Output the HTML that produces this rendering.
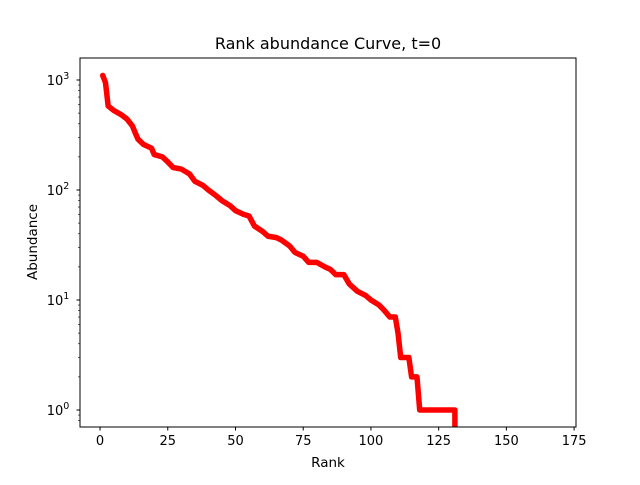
<!DOCTYPE html>
<html><head><meta charset="utf-8"><style>
body{margin:0;background:#fff;}
svg text{font-family:"DejaVu Sans","Liberation Sans",sans-serif;fill:#000;}
</style></head><body>
<svg id="chart" width="640" height="480" viewBox="0 0 640 480" xmlns="http://www.w3.org/2000/svg">
<rect width="640" height="480" fill="#fff"/>
<defs><clipPath id="clip"><rect x="80" y="58" width="496" height="369"/></clipPath></defs>
<g id="plot" clip-path="url(#clip)"></g>
<rect x="80" y="58" width="496" height="369" fill="none" stroke="#000" stroke-width="1"/>
<g id="axes"></g>
<text x="328" y="49" text-anchor="middle" font-size="16">Rank abundance Curve, t=0</text>
<text x="328" y="467" text-anchor="middle" font-size="13.5">Rank</text>
<text x="37" y="242" text-anchor="middle" font-size="13.5" transform="rotate(-90 37 242)">Abundance</text>
</svg>
<script>
const ranks = [1,2,3,5,8,10,12,13,14,16,19,20,23,25,27,30,33,35,38,40,43,45,48,50,53,55,57,60,62,65,67,70,72,75,77,80,83,85,87,90,92,95,98,100,103,105,107,109,110,111,114,115,117,118,131];
const abundance = [1100,950,580,530,480,440,380,330,290,260,240,210,200,180,160,155,140,120,110,100,88,80,72,65,60,58,47,42,38,37,35,31,27,25,22,22,20,19,17,17,14,12,11,10,9,8,7,7,5,3,3,2,2,1,1];
const xTicks = [0,25,50,75,100,125,150,175];
const yTicks = [0,1,2,3];
const NS="http://www.w3.org/2000/svg";
const xmin=-7.4,xmax=175.7,L=80,R=576,T=58,B=427;
const ylmin=-0.1545,ylmax=3.2;
const sx=v=>L+(v-xmin)/(xmax-xmin)*(R-L);
const sy=v=>B-(Math.log10(v)-ylmin)/(ylmax-ylmin)*(B-T);
function mk(tag,attrs,parent){const e=document.createElementNS(NS,tag);for(const k in attrs)e.setAttribute(k,attrs[k]);parent.appendChild(e);return e;}
const plot=document.getElementById('plot'),axes=document.getElementById('axes');
let d=ranks.map((r,i)=>(i?'L':'M')+sx(r).toFixed(2)+','+sy(abundance[i]).toFixed(2)).join(' ');
d+=' L'+sx(ranks[ranks.length-1]).toFixed(2)+','+(B+20);
const line=mk('path',{d:d,fill:'none',stroke:'#ff0000','stroke-width':5.5,'stroke-linejoin':'round','stroke-linecap':'round'},plot);


xTicks.forEach(t=>{const x=sx(t);
 const tk=mk('line',{x1:x,x2:x,y1:B,y2:B+3.5,stroke:'#000'},axes);
 
 
 const lb=mk('text',{x:x,y:B+18,'text-anchor':'middle','font-size':13},axes);lb.textContent=t;
 
 
});
yTicks.forEach(p=>{const y=sy(Math.pow(10,p));
 const tk=mk('line',{x1:L-3.5,x2:L,y1:y,y2:y,stroke:'#000'},axes);
 
 
 const lb=mk('text',{x:L-22,y:y+5,'text-anchor':'middle','font-size':13},axes);
 lb.innerHTML='10<tspan dy="-6" font-size="9.5">'+p+'</tspan>';
 
 
});
for(let p=-1;p<4;p++)for(let m=2;m<10;m++){const v=m*Math.pow(10,p);const y=sy(v);if(y<T||y>B)continue;
 const tk=mk('line',{x1:L-2,x2:L,y1:y,y2:y,stroke:'#000','stroke-width':0.6},axes);
 
 
}
</script>
</body></html>
